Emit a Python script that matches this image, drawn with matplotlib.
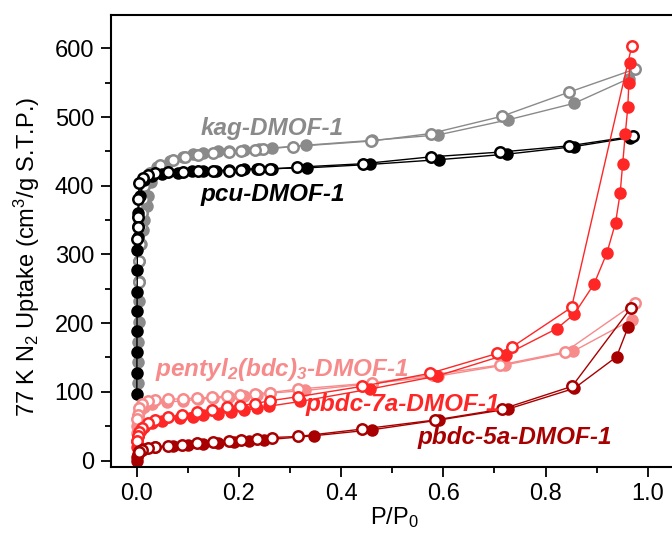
import matplotlib
matplotlib.use("Agg")
import matplotlib.pyplot as plt
from matplotlib.ticker import MultipleLocator

plt.rcParams["font.family"] = ["Liberation Sans", "DejaVu Sans"]
plt.rcParams["mathtext.fontset"] = "custom"
plt.rcParams["mathtext.rm"] = "Liberation Sans"
plt.rcParams["mathtext.it"] = "Liberation Sans:italic"
# bold math only used for the subscripts in the italic labels
plt.rcParams["mathtext.bf"] = "Liberation Sans:bold:italic"

# DATA
kag_ads_p = [0.003, 0.003, 0.003, 0.004, 0.004, 0.004, 0.005, 0.008, 0.012, 0.015, 0.02,
             0.022, 0.028, 0.04, 0.065, 0.09, 0.11, 0.13, 0.16, 0.18, 0.21, 0.24, 0.265,
             0.331, 0.46, 0.59, 0.727, 0.856, 0.963]
kag_ads_v = [113, 143, 172, 202, 232, 262, 290, 315, 335, 350, 370,
             385, 405, 427, 436, 442, 446, 448, 450, 451, 452, 453, 455,
             459, 466, 474, 496, 520, 556]
kag_des_p = [0.976, 0.845, 0.714, 0.575, 0.4585, 0.305, 0.248, 0.232, 0.2035, 0.18, 0.15,
             0.12, 0.095, 0.07, 0.045, 0.025, 0.015, 0.012, 0.01, 0.008, 0.006, 0.005, 0.004]
kag_des_v = [570, 536, 501, 476, 465, 457, 453, 452, 451, 449, 447,
             445, 442, 438, 430, 418, 400, 380, 360, 340, 315, 290, 260]

pcu_ads_p = [0.0002, 0.0003, 0.0004, 0.0005, 0.0006, 0.0008, 0.001, 0.0012, 0.0015, 0.002,
             0.003, 0.006, 0.015, 0.03, 0.05, 0.08, 0.108, 0.13, 0.155, 0.18, 0.21, 0.235,
             0.264, 0.333, 0.456, 0.592, 0.725, 0.856, 0.965]
pcu_ads_v = [97, 127, 158, 188, 218, 246, 277, 307, 325, 342,
             360, 385, 408, 414, 417, 419, 421, 422, 422, 423, 424, 425,
             425, 426, 431, 438, 446, 457, 470]
pcu_des_p = [0.972, 0.845, 0.711, 0.575, 0.442, 0.313, 0.26, 0.239, 0.205, 0.18, 0.15,
             0.12, 0.09, 0.062, 0.036, 0.022, 0.012, 0.005, 0.003, 0.002, 0.0015, 0.001]
pcu_des_v = [472, 458, 449, 442, 432, 427, 424, 424, 423, 422, 421,
             421, 420, 420, 418, 416, 412, 404, 380, 355, 340, 322]

pentyl_ads_p = [0.0005, 0.001, 0.0015, 0.002, 0.004, 0.008, 0.015, 0.03, 0.06, 0.09, 0.12,
                0.15, 0.18, 0.21, 0.235, 0.26, 0.33, 0.46, 0.59, 0.72, 0.854, 0.969]
pentyl_ads_v = [40, 50, 58, 65, 70, 75, 78, 82, 85, 87, 89,
                91, 92, 94, 96, 98, 102, 112, 123, 139, 159, 205]
pentyl_des_p = [0.975, 0.838, 0.71, 0.58, 0.46, 0.316, 0.261, 0.232, 0.202, 0.176, 0.147,
                0.117, 0.09, 0.062, 0.036, 0.022, 0.01, 0.004, 0.002, 0.001]
pentyl_des_v = [229, 158, 139, 125, 113, 104, 99, 97, 96, 94, 92,
                91, 90, 89, 88, 86, 83, 77, 67, 60]

p7a_ads_p = [0.0005, 0.001, 0.002, 0.004, 0.008, 0.015, 0.03, 0.05, 0.085, 0.11, 0.13,
             0.16, 0.185, 0.21, 0.235, 0.258, 0.32, 0.456, 0.588, 0.722, 0.822, 0.856,
             0.895, 0.92, 0.937, 0.946, 0.951, 0.956, 0.961, 0.963, 0.965]
p7a_ads_v = [20, 28, 35, 40, 45, 49, 54, 57, 62, 64, 66,
             68, 71, 73, 76, 79, 86, 104, 123, 154, 192, 213,
             257, 302, 346, 389, 432, 475, 514, 549, 579]
p7a_des_p = [0.969, 0.851, 0.734, 0.706, 0.574, 0.4415, 0.316, 0.261, 0.2315, 0.202, 0.176,
             0.147, 0.117, 0.088, 0.062, 0.036, 0.022, 0.01, 0.005, 0.003, 0.001]
p7a_des_v = [604, 223, 165, 156, 127, 108, 93, 87, 83, 80, 78,
             74, 71, 67, 63, 59, 54, 48, 42, 35, 28]

p5a_ads_p = [0.0003, 0.0008, 0.002, 0.005, 0.012, 0.036, 0.07, 0.1, 0.13, 0.16, 0.19,
             0.22, 0.25, 0.346, 0.46, 0.592, 0.727, 0.856, 0.939, 0.962]
p5a_ads_v = [0, 5, 10, 14, 17, 19.5, 21, 22, 24, 25, 27,
             28, 30, 36, 44.7, 59, 75, 105, 151, 195]
p5a_des_p = [0.967, 0.852, 0.7155, 0.584, 0.44, 0.316, 0.264, 0.235, 0.205, 0.18, 0.15,
             0.117, 0.088, 0.062, 0.036, 0.022, 0.01, 0.004]
p5a_des_v = [222, 108, 75, 59, 45.7, 35, 33.5, 31, 30, 29, 27.6,
             25, 22.8, 21.4, 19.5, 18, 16, 12]

series = [
    ("kag", "#8a8a8a", kag_ads_p, kag_ads_v, kag_des_p, kag_des_v),
    ("pcu", "#000000", pcu_ads_p, pcu_ads_v, pcu_des_p, pcu_des_v),
    ("pentyl", "#f78a8a", pentyl_ads_p, pentyl_ads_v, pentyl_des_p, pentyl_des_v),
    ("p7a", "#ff2626", p7a_ads_p, p7a_ads_v, p7a_des_p, p7a_des_v),
    ("p5a", "#a80000", p5a_ads_p, p5a_ads_v, p5a_des_p, p5a_des_v),
]

labels = [
    ("kag-DMOF-1", "#8a8a8a", 0.124, 484),
    ("pcu-DMOF-1", "#000000", 0.124, 387),
    (r"pentyl$_\mathbf{2}$(bdc)$_\mathbf{3}$-DMOF-1", "#f78a8a", 0.036, 133),
    ("pbdc-7a-DMOF-1", "#ff2626", 0.33, 81),
    ("pbdc-5a-DMOF-1", "#a80000", 0.55, 33),
]

# PLOT
fig = plt.figure(figsize=(6.72, 5.42), dpi=100)
ax = fig.add_axes([0.1647, 0.1389, 0.8524, 0.834])

for name, color, ap, av, dp, dv in series:
    ax.plot(ap, av, "-o", color=color, lw=1.0, ms=7.5,
            mfc=color, mec=color, mew=1.5)
    ax.plot(dp, dv, "-o", color=color, lw=1.0, ms=7.5,
            mfc="white", mec=color, mew=1.8)

for text, color, x, y in labels:
    ax.text(x, y, text, color=color, fontsize=17.5, fontweight="bold",
            fontstyle="italic", ha="left", va="center", zorder=10)

# AXES
ax.set_xlim(-0.051, 1.07)
ax.set_ylim(-9, 649)

ax.xaxis.set_major_locator(MultipleLocator(0.2))
ax.xaxis.set_minor_locator(MultipleLocator(0.1))
ax.yaxis.set_major_locator(MultipleLocator(100))
ax.yaxis.set_minor_locator(MultipleLocator(50))
ax.set_xticks([0.0, 0.2, 0.4, 0.6, 0.8, 1.0])
ax.set_xticklabels(["0.0", "0.2", "0.4", "0.6", "0.8", "1.0"])

ax.tick_params(which="both", direction="out", top=False, right=False,
               width=1.3, labelsize=17)
ax.tick_params(which="major", length=7, pad=5)
ax.tick_params(which="minor", length=4)

for s in ax.spines.values():
    s.set_linewidth(1.5)

ax.set_xlabel("P/P$_0$", fontsize=17)
ax.set_ylabel("77 K N$_2$ Uptake (cm$^3$/g S.T.P.)", fontsize=17)
ax.xaxis.set_label_coords(0.496, -0.085)
ax.yaxis.set_label_coords(-0.12, 0.463)

# SAVE
fig.savefig("out.png", dpi=100)
